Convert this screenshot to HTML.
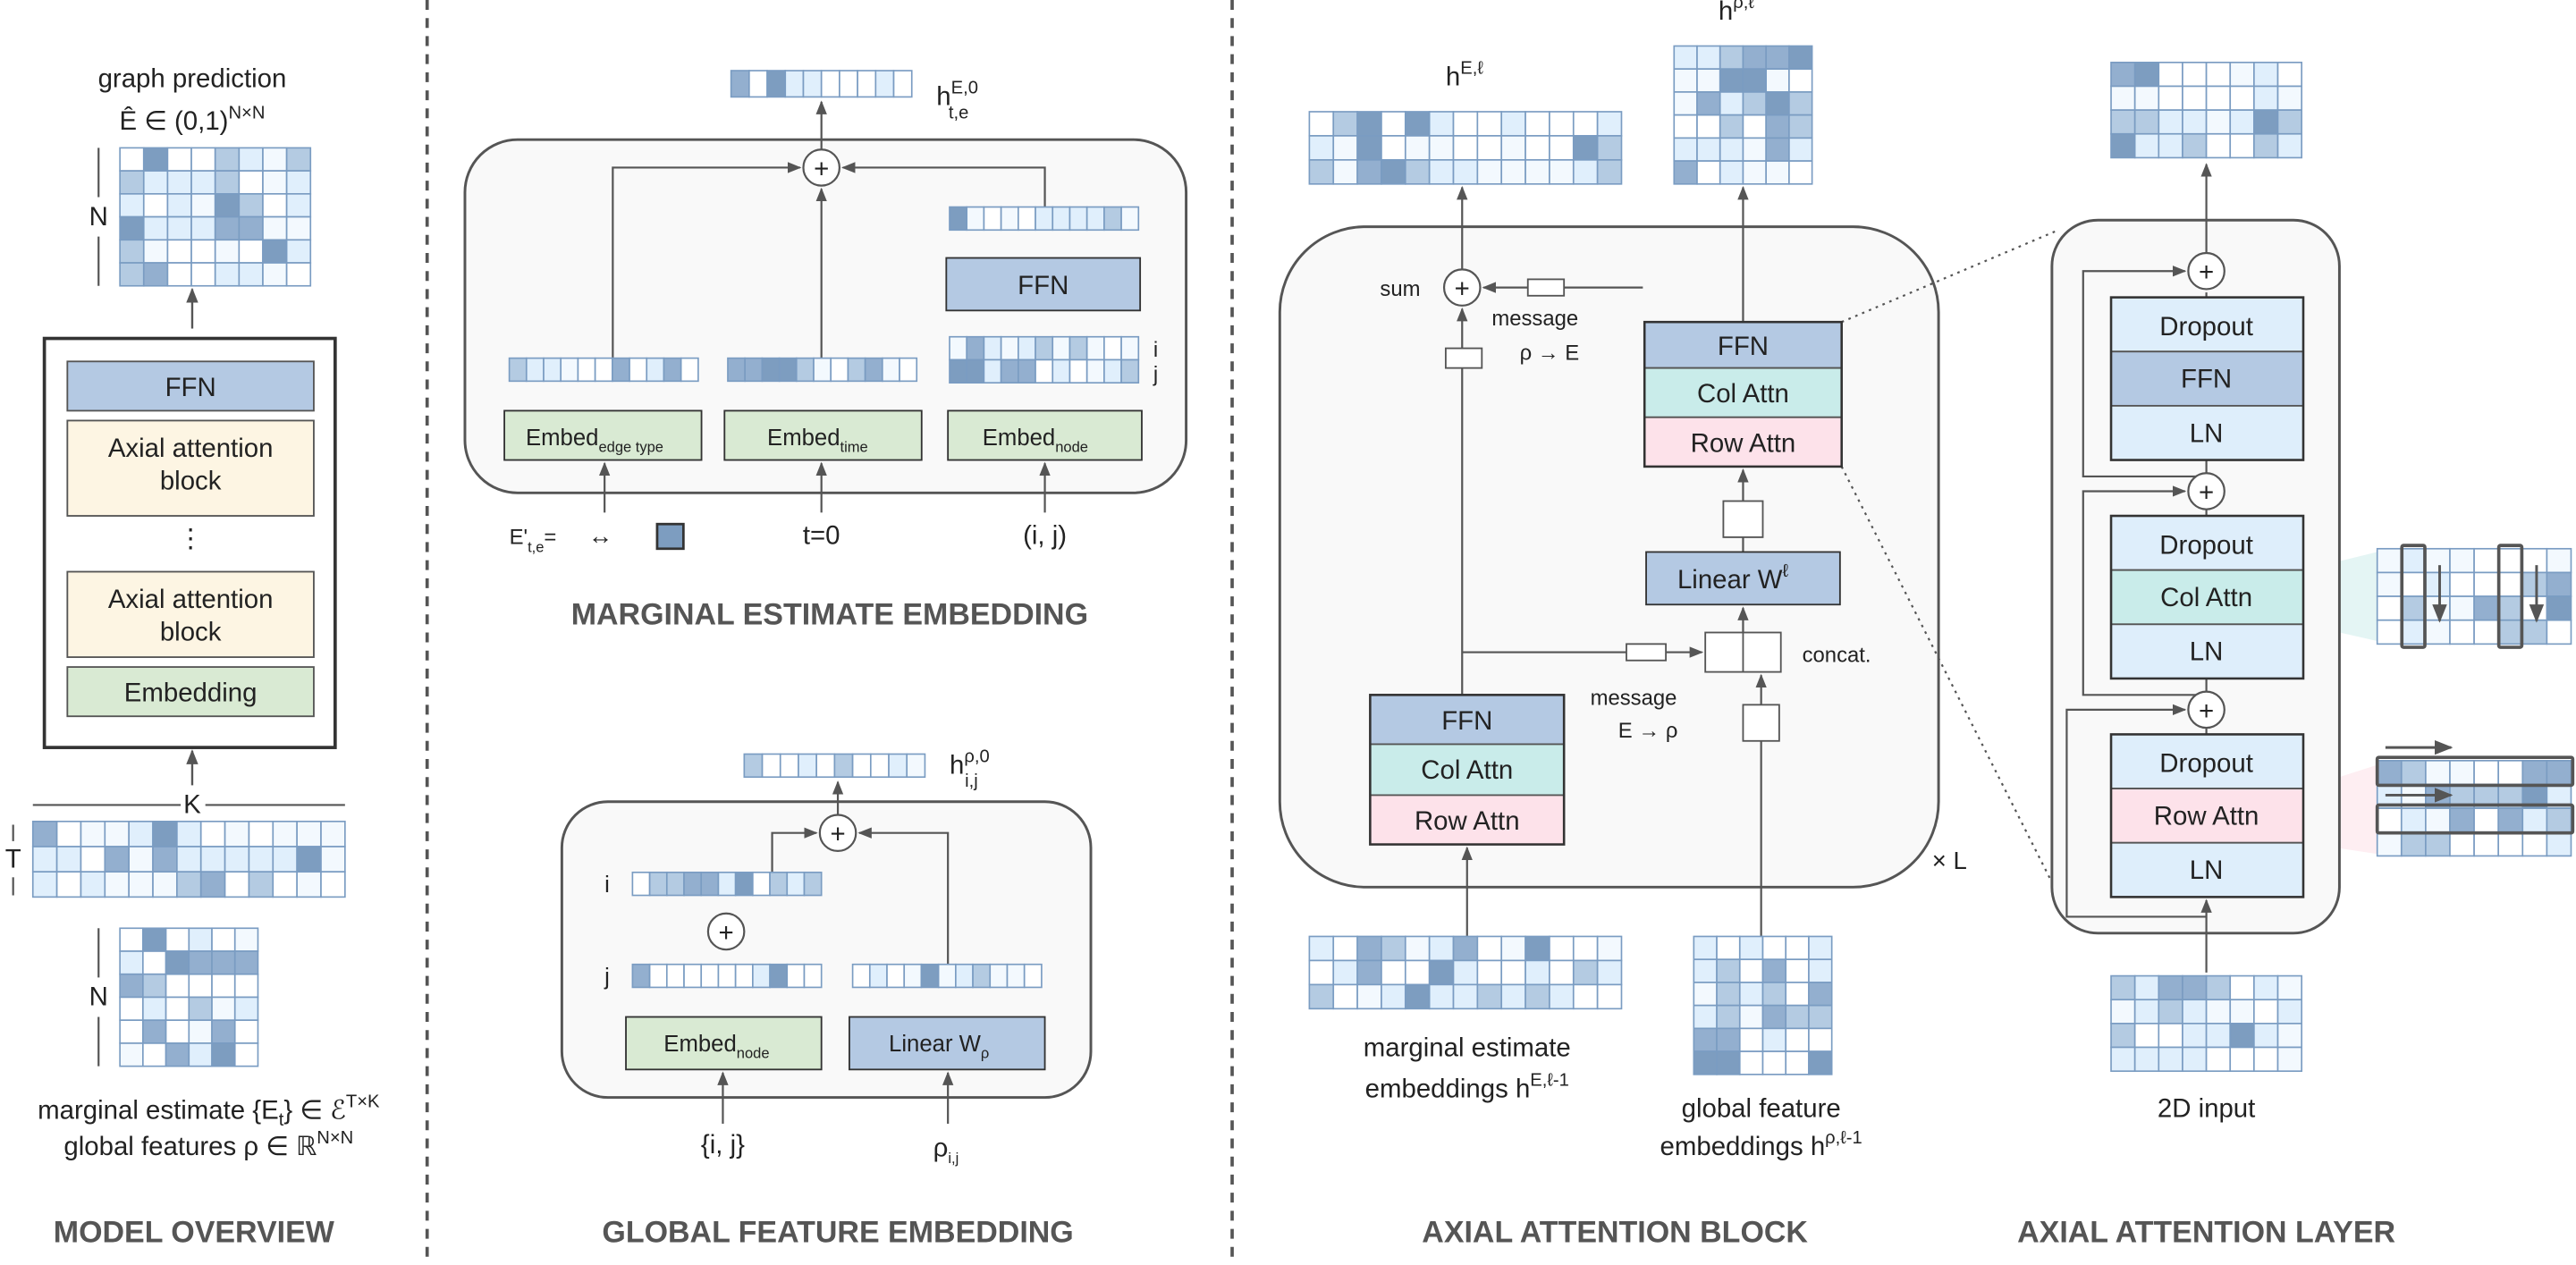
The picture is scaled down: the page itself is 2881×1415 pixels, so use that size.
<!DOCTYPE html>
<html><head><meta charset="utf-8"><style>
html,body{margin:0;padding:0;background:#fff;}
svg{display:block;}
text{font-family:"Liberation Sans",sans-serif;fill:#222;}
.t{font-size:16px;text-anchor:middle;}
.h{font-size:18.5px;font-weight:bold;fill:#555;text-anchor:middle;}
</style></head><body>
<svg id="s" width="2881" height="1415" viewBox="0 0 1568 770" preserveAspectRatio="none" xmlns="http://www.w3.org/2000/svg">
<defs>
<marker id="a" viewBox="0 0 10 10" refX="9" refY="5" markerWidth="7" markerHeight="7" orient="auto"><path d="M0,1 L10,5 L0,9 z" fill="#555"/></marker>
</defs>
<g stroke="#555" stroke-width="1.3" fill="none">
<line x1="260" y1="0" x2="260" y2="770" stroke-dasharray="6,5" stroke-width="2"/>
<line x1="750" y1="0" x2="750" y2="770" stroke-dasharray="6,5" stroke-width="2"/>
</g>

<!-- PANEL 1 -->
<text class="t" x="117" y="53">graph prediction</text>
<text class="t" x="117" y="79">Ê ∈ (0,1)<tspan font-size="11" dy="-7">N×N</tspan></text>
<g stroke="#555" stroke-width="1.2"><line x1="60" y1="90" x2="60" y2="120"/><line x1="60" y1="144" x2="60" y2="174"/>
<line x1="8" y1="502" x2="8" y2="512"/><line x1="8" y1="534" x2="8" y2="545"/>
<line x1="60" y1="565" x2="60" y2="595"/><line x1="60" y1="619" x2="60" y2="649"/>
<line x1="20" y1="490" x2="110" y2="490"/><line x1="125" y1="490" x2="210" y2="490"/></g>
<text class="t" x="60" y="137" font-size="13">N</text>
<text class="t" x="8" y="528" font-size="13">T</text>
<text class="t" x="60" y="612" font-size="13">N</text>
<text class="t" x="117" y="495" font-size="13">K</text>
<line x1="117" y1="200" x2="117" y2="176" stroke="#555" stroke-width="1.3" marker-end="url(#a)"/>
<line x1="117" y1="478" x2="117" y2="457" stroke="#555" stroke-width="1.3" marker-end="url(#a)"/>
<rect x="27" y="206" width="177" height="249" fill="#fff" stroke="#333" stroke-width="2"/>
<rect x="41" y="220" width="150" height="30" fill="#b4c9e3" stroke="#555"/>
<text class="t" x="116" y="241">FFN</text>
<rect x="41" y="256" width="150" height="58" fill="#fdf5e3" stroke="#555"/>
<text class="t" x="116" y="278">Axial attention</text><text class="t" x="116" y="298">block</text>
<text class="t" x="116" y="333">⋮</text>
<rect x="41" y="348" width="150" height="52" fill="#fdf5e3" stroke="#555"/>
<text class="t" x="116" y="370">Axial attention</text><text class="t" x="116" y="390">block</text>
<rect x="41" y="406" width="150" height="30" fill="#d9ead3" stroke="#555"/>
<text class="t" x="116" y="427">Embedding</text>
<text class="t" x="127" y="681">marginal estimate {E<tspan font-size="11" dy="4">t</tspan><tspan dy="-4">} ∈ ℰ</tspan><tspan font-size="11" dy="-7">T×K</tspan></text>
<text class="t" x="127" y="703">global features ρ ∈ ℝ<tspan font-size="11" dy="-7">N×N</tspan></text>
<text class="h" x="118" y="756">MODEL OVERVIEW</text>

<!-- PANEL 2 top -->
<rect x="283" y="85" width="439" height="215" rx="32" fill="#f9f9f9" stroke="#555" stroke-width="1.6"/>
<text x="570" y="64" font-size="16">h<tspan font-size="11" dy="-7">E,0</tspan><tspan font-size="11" dx="-18" dy="15">t,e</tspan></text>
<g stroke="#555" stroke-width="1.2" fill="none">
<line x1="500" y1="91" x2="500" y2="62" marker-end="url(#a)"/>
<polyline points="373,218 373,102 487,102" marker-end="url(#a)"/>
<line x1="500" y1="218" x2="500" y2="115" marker-end="url(#a)"/>
<polyline points="636,126 636,102 513,102" marker-end="url(#a)"/>
<line x1="368" y1="312" x2="368" y2="282" marker-end="url(#a)"/>
<line x1="500" y1="312" x2="500" y2="282" marker-end="url(#a)"/>
<line x1="636" y1="312" x2="636" y2="282" marker-end="url(#a)"/>
</g>
<circle cx="500" cy="102" r="11" fill="#fff" stroke="#555" stroke-width="1.2"/><text class="t" x="500" y="108">+</text>
<rect x="576" y="157" width="118" height="32" fill="#b4c9e3" stroke="#333"/><text class="t" x="635" y="179">FFN</text>
<text x="702" y="217" font-size="13">i</text><text x="702" y="232" font-size="13">j</text>
<rect x="307" y="250" width="120" height="30" fill="#d9ead3" stroke="#333"/><text x="320" y="271" font-size="14">Embed<tspan font-size="9" dy="4">edge type</tspan></text>
<rect x="441" y="250" width="120" height="30" fill="#d9ead3" stroke="#333"/><text x="467" y="271" font-size="14">Embed<tspan font-size="9" dy="4">time</tspan></text>
<rect x="577" y="250" width="118" height="30" fill="#d9ead3" stroke="#333"/><text x="598" y="271" font-size="14">Embed<tspan font-size="9" dy="4">node</tspan></text>
<text x="310" y="331" font-size="13">E'<tspan font-size="9" dy="5">t,e</tspan><tspan dy="-5">=</tspan></text>
<text x="358" y="331" font-size="15">↔</text>
<rect x="400" y="319" width="16" height="15" fill="#7d9dc0" stroke="#333" stroke-width="1.5"/>
<text class="t" x="500" y="331" font-size="14">t=0</text>
<text class="t" x="636" y="331" font-size="14">(i, j)</text>
<text class="h" x="505" y="380">MARGINAL ESTIMATE EMBEDDING</text>

<!-- PANEL 2 bottom -->
<rect x="342" y="488" width="322" height="180" rx="28" fill="#f9f9f9" stroke="#555" stroke-width="1.6"/>
<text x="578" y="471" font-size="16">h<tspan font-size="11" dy="-7">ρ,0</tspan><tspan font-size="11" dx="-15" dy="15">i,j</tspan></text>
<g stroke="#555" stroke-width="1.2" fill="none">
<line x1="510" y1="496" x2="510" y2="476" marker-end="url(#a)"/>
<polyline points="470,531 470,507 497,507" marker-end="url(#a)"/>
<polyline points="577,587 577,507 523,507" marker-end="url(#a)"/>
<line x1="440" y1="684" x2="440" y2="653" marker-end="url(#a)"/>
<line x1="577" y1="684" x2="577" y2="653" marker-end="url(#a)"/>
</g>
<circle cx="510" cy="507" r="11" fill="#fff" stroke="#555" stroke-width="1.2"/><text class="t" x="510" y="513">+</text>
<circle cx="442" cy="567" r="11" fill="#fff" stroke="#555" stroke-width="1.2"/><text class="t" x="442" y="573">+</text>
<text x="368" y="543" font-size="14">i</text><text x="368" y="599" font-size="14">j</text>
<rect x="381" y="619" width="119" height="32" fill="#d9ead3" stroke="#333"/><text x="404" y="640" font-size="14">Embed<tspan font-size="9" dy="4">node</tspan></text>
<rect x="517" y="619" width="119" height="32" fill="#b4c9e3" stroke="#333"/><text x="541" y="640" font-size="14">Linear W<tspan font-size="9" dy="4">ρ</tspan></text>
<text class="t" x="440" y="702" font-size="14">{i, j}</text>
<text x="568" y="704" font-size="16">ρ<tspan font-size="9" dy="4">i,j</tspan></text>
<text class="h" x="510" y="756">GLOBAL FEATURE EMBEDDING</text>

<!-- PANEL 3 -->
<rect x="779" y="138" width="401" height="402" rx="52" fill="#f9f9f9" stroke="#555" stroke-width="1.6"/>
<text x="880" y="52" font-size="16">h<tspan font-size="11" dy="-7">E,ℓ</tspan></text>
<text x="1046" y="12" font-size="16">h<tspan font-size="11" dy="-7">ρ,ℓ</tspan></text>
<g stroke="#555" stroke-width="1.2" fill="none">
<line x1="890" y1="164" x2="890" y2="114" marker-end="url(#a)"/>
<line x1="1061" y1="196" x2="1061" y2="114" marker-end="url(#a)"/>
<line x1="1000" y1="175" x2="903" y2="175" marker-end="url(#a)"/>
<line x1="890" y1="423" x2="890" y2="188" marker-end="url(#a)"/>
<line x1="893" y1="572" x2="893" y2="516" marker-end="url(#a)"/>
<line x1="1072" y1="572" x2="1072" y2="411" marker-end="url(#a)"/>
<line x1="1061" y1="385" x2="1061" y2="370" marker-end="url(#a)"/>
<line x1="1061" y1="336" x2="1061" y2="286" marker-end="url(#a)"/>
<line x1="890" y1="397" x2="1036" y2="397" marker-end="url(#a)"/>
<line x1="1121" y1="196" x2="1253" y2="140" stroke-dasharray="1.5,3"/>
<line x1="1121" y1="284" x2="1253" y2="545" stroke-dasharray="1.5,3"/>
</g>
<circle cx="890" cy="175" r="11" fill="#fff" stroke="#555" stroke-width="1.2"/><text class="t" x="890" y="181">+</text>
<text x="840" y="180" font-size="13">sum</text>
<rect x="930" y="170" width="22" height="10" fill="#fff" stroke="#555"/>
<text x="908" y="198" font-size="13">message</text><text x="925" y="219" font-size="13">ρ → E</text>
<rect x="880" y="212" width="22" height="12" fill="#fff" stroke="#555"/>
<rect x="1001" y="196" width="120" height="28" fill="#b4c9e3" stroke="#555"/><text class="t" x="1061" y="216">FFN</text>
<rect x="1001" y="224" width="120" height="30" fill="#c9ecea" stroke="#555"/><text class="t" x="1061" y="245">Col Attn</text>
<rect x="1001" y="254" width="120" height="30" fill="#fde2ea" stroke="#555"/><text class="t" x="1061" y="275">Row Attn</text>
<rect x="1001" y="196" width="120" height="88" fill="none" stroke="#333" stroke-width="1.4"/>
<rect x="1049" y="305" width="24" height="22" fill="#fff" stroke="#555"/>
<rect x="1002" y="336" width="118" height="32" fill="#b4c9e3" stroke="#333"/><text x="1021" y="358" font-size="16">Linear W<tspan font-size="11" dy="-7">ℓ</tspan></text>
<rect x="1038" y="385" width="46" height="24" fill="#fff" stroke="#555"/><line x1="1061" y1="385" x2="1061" y2="409" stroke="#555"/>
<text x="1097" y="403" font-size="13">concat.</text>
<rect x="990" y="392" width="24" height="10" fill="#fff" stroke="#555"/>
<text x="968" y="429" font-size="13">message</text><text x="985" y="449" font-size="13">E → ρ</text>
<rect x="1061" y="429" width="22" height="22" fill="#fff" stroke="#555"/>
<rect x="834" y="423" width="118" height="30" fill="#b4c9e3" stroke="#555"/><text class="t" x="893" y="444">FFN</text>
<rect x="834" y="453" width="118" height="31" fill="#c9ecea" stroke="#555"/><text class="t" x="893" y="474">Col Attn</text>
<rect x="834" y="484" width="118" height="30" fill="#fde2ea" stroke="#555"/><text class="t" x="893" y="505">Row Attn</text>
<rect x="834" y="423" width="118" height="91" fill="none" stroke="#333" stroke-width="1.4"/>
<text x="1176" y="529" font-size="15">× L</text>
<text class="t" x="893" y="643">marginal estimate</text>
<text class="t" x="893" y="668">embeddings h<tspan font-size="11" dy="-7">E,ℓ-1</tspan></text>
<text class="t" x="1072" y="680">global feature</text>
<text class="t" x="1072" y="703">embeddings h<tspan font-size="11" dy="-7">ρ,ℓ-1</tspan></text>
<text class="h" x="983" y="756">AXIAL ATTENTION BLOCK</text>

<!-- PANEL 4 -->
<polygon points="1402,347 1455,334 1455,392 1402,380" fill="#c9ecea" opacity="0.5"/>
<polygon points="1402,480 1455,463 1455,521 1402,513" fill="#fde2ea" opacity="0.6"/>
<rect x="1249" y="134" width="175" height="434" rx="28" fill="#f9f9f9" stroke="#555" stroke-width="1.6"/>
<g stroke="#555" stroke-width="1.2" fill="none">
<line x1="1343" y1="154" x2="1343" y2="100" marker-end="url(#a)"/>
<line x1="1343" y1="181" x2="1343" y2="178" />
<line x1="1343" y1="314" x2="1343" y2="310"/>
<line x1="1343" y1="447" x2="1343" y2="443"/>
<line x1="1343" y1="288" x2="1343" y2="280"/>
<line x1="1343" y1="421" x2="1343" y2="413"/>
<line x1="1343" y1="592" x2="1343" y2="548" marker-end="url(#a)"/>
<polyline points="1343,290 1268,290 1268,165 1330,165" marker-end="url(#a)"/>
<polyline points="1343,423 1268,423 1268,299 1330,299" marker-end="url(#a)"/>
<polyline points="1343,558 1258,558 1258,432 1330,432" marker-end="url(#a)"/>
</g>
<circle cx="1343" cy="165" r="11" fill="#fff" stroke="#555" stroke-width="1.2"/><text class="t" x="1343" y="171">+</text>
<circle cx="1343" cy="299" r="11" fill="#fff" stroke="#555" stroke-width="1.2"/><text class="t" x="1343" y="305">+</text>
<circle cx="1343" cy="432" r="11" fill="#fff" stroke="#555" stroke-width="1.2"/><text class="t" x="1343" y="438">+</text>
<g stroke="#555">
<rect x="1285" y="181" width="117" height="33" fill="#deeefb"/><rect x="1285" y="214" width="117" height="33" fill="#b4c9e3"/><rect x="1285" y="247" width="117" height="33" fill="#deeefb"/>
<rect x="1285" y="314" width="117" height="33" fill="#deeefb"/><rect x="1285" y="347" width="117" height="33" fill="#c9ecea"/><rect x="1285" y="380" width="117" height="33" fill="#deeefb"/>
<rect x="1285" y="447" width="117" height="33" fill="#deeefb"/><rect x="1285" y="480" width="117" height="33" fill="#fde2ea"/><rect x="1285" y="513" width="117" height="33" fill="#deeefb"/>
</g>
<g fill="none" stroke="#333" stroke-width="1.4"><rect x="1285" y="181" width="117" height="99"/><rect x="1285" y="314" width="117" height="99"/><rect x="1285" y="447" width="117" height="99"/></g>
<text class="t" x="1343" y="204">Dropout</text><text class="t" x="1343" y="236">FFN</text><text class="t" x="1343" y="269">LN</text>
<text class="t" x="1343" y="337">Dropout</text><text class="t" x="1343" y="369">Col Attn</text><text class="t" x="1343" y="402">LN</text>
<text class="t" x="1343" y="470">Dropout</text><text class="t" x="1343" y="502">Row Attn</text><text class="t" x="1343" y="535">LN</text>
<text class="t" x="1343" y="680">2D input</text>
<text class="h" x="1343" y="756">AXIAL ATTENTION LAYER</text>
<g id="grids"></g>
<g id="over"></g>
</svg>
<script>
(function(){
var seed=7;function r(){seed=(seed*16807)%2147483647;return seed/2147483647;}
var cols=["#ffffff","#f3f9fe","#e0effc","#e0effc","#b4cbe2","#93afcf","#7d9dc0"];
function pick(){var v=r();if(v<0.3)return cols[0];if(v<0.5)return cols[1];if(v<0.72)return cols[2];if(v<0.84)return cols[4];if(v<0.92)return cols[5];return cols[6];}
var G=document.getElementById('grids'),s='';
function grid(x,y,c,rw,w,h){var cw=w/c,ch=h/rw;for(var j=0;j<rw;j++)for(var i=0;i<c;i++){s+='<rect x="'+(x+i*cw)+'" y="'+(y+j*ch)+'" width="'+cw+'" height="'+ch+'" fill="'+pick()+'" stroke="#7a9cc2" stroke-width="0.9"/>';}}
grid(73,90,8,6,116,84);
grid(20,500,13,3,190,46);
grid(73,565,6,6,84,84);
grid(445,43,10,1,110,16);
grid(310,218,11,1,115,14);
grid(443,218,11,1,115,14);
grid(578,205,11,2,115,28);
grid(578,126,11,1,115,14);
grid(453,459,10,1,110,14);
grid(385,531,11,1,115,14);
grid(385,587,11,1,115,14);
grid(519,587,11,1,115,14);
grid(797,68,13,3,190,44);
grid(1019,28,6,6,84,84);
grid(797,570,13,3,190,44);
grid(1031,570,6,6,84,84);
grid(1285,38,8,4,116,58);
grid(1447,334,8,4,118,58);
grid(1447,463,8,4,118,58);
grid(1285,594,8,4,116,58);
G.innerHTML=s;
var o='';
o+='<g fill="none" stroke="#555" stroke-width="2"><rect x="1462" y="332" width="14" height="62" rx="1"/><rect x="1521" y="332" width="14" height="62" rx="1"/><rect x="1447" y="461" width="119" height="17" rx="1"/><rect x="1447" y="490" width="119" height="17" rx="1"/></g>';
o+='<g stroke="#555" stroke-width="1.6"><line x1="1485" y1="344" x2="1485" y2="378" marker-end="url(#a)"/><line x1="1544" y1="344" x2="1544" y2="378" marker-end="url(#a)"/><line x1="1452" y1="455" x2="1492" y2="455" marker-end="url(#a)"/><line x1="1452" y1="484" x2="1492" y2="484" marker-end="url(#a)"/></g>';
document.getElementById('over').innerHTML=o;
})();
</script>
</body></html>
